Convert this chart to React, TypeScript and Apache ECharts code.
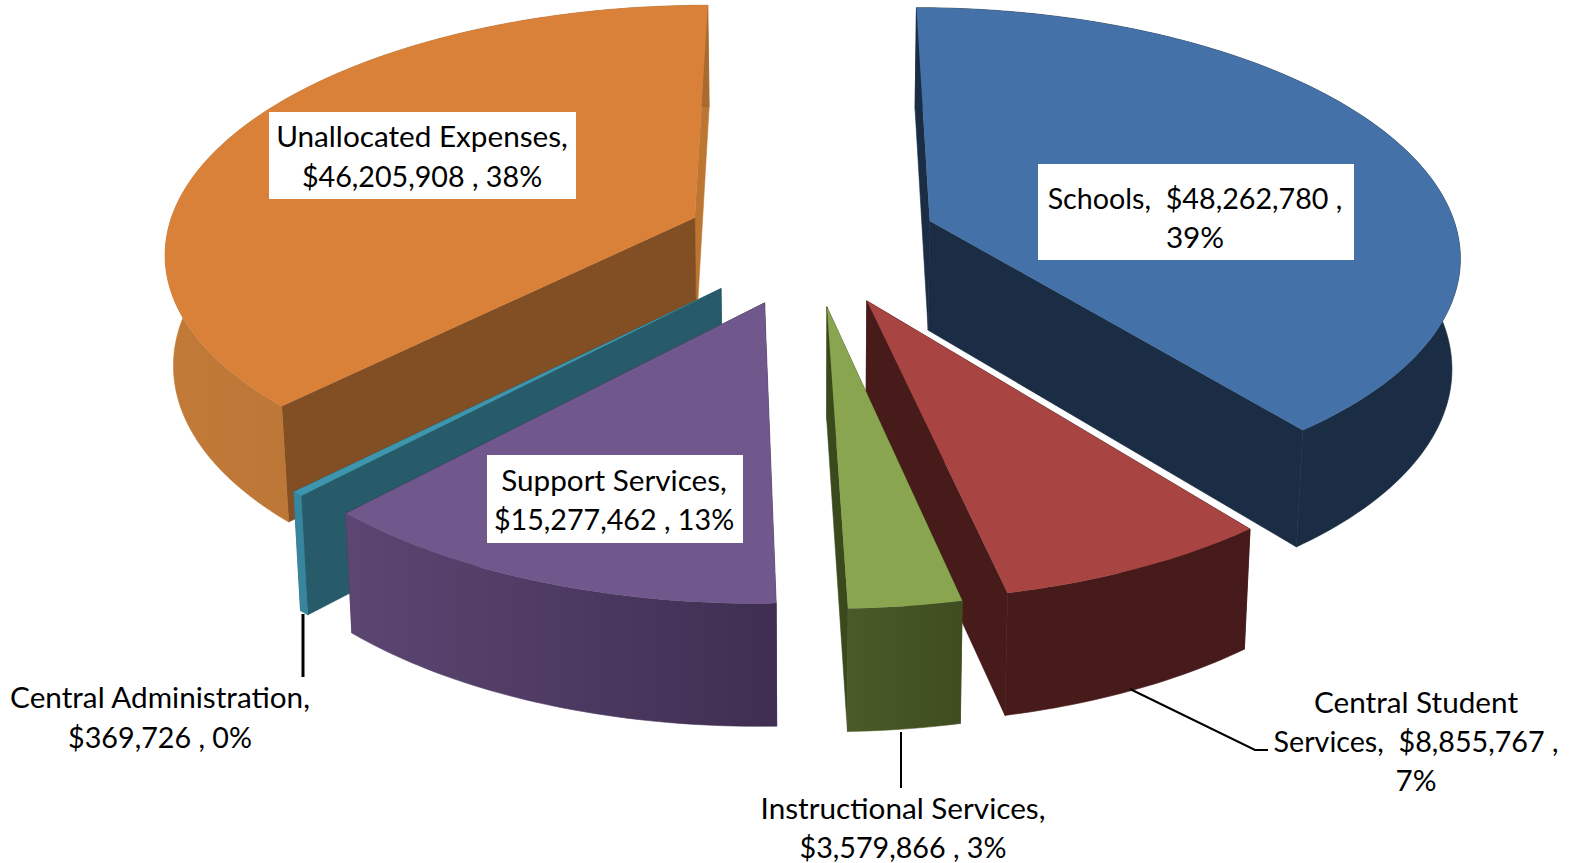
import React, { useEffect, useRef } from "react";
import * as echarts from "echarts";

const categories = ["Schools", "Central Student Services", "Instructional Services", "Support Services", "Central Administration", "Unallocated Expenses"];
const values = [48262780, 8855767, 3579866, 15277462, 369726, 46205908];
const paintOrder = [5, 0, 4, 3, 1, 2];
const insideLabels = [
  ["Schools,  $48,262,780 ,", "39%"],
  ["Central Student", "Services,  $8,855,767 ,", "7%"],
  ["Instructional Services,", "$3,579,866 , 3%"],
  ["Support Services,", "$15,277,462 , 13%"],
  ["Central Administration,", "$369,726 , 0%"],
  ["Unallocated Expenses,", "$46,205,908 , 38%"],
];

const topColors = ["#4472a8", "#a84442", "#8aa54f", "#70578c", "#3d96ae", "#d98139"];
const startWall = ["#1a2d45", "#3a1615", "#445122", "#3f2e52", "#275b69", "#824e24"];
const endWall = ["#1a2d45", "#471b1a", "#3a4a1c", "#3f2e52", "#275b69", "#bd7532"];
const rimLeft = ["#1a2d45", "#471b1a", "#4a5a28", "#5c4672", "#38869d", "#c27a38"];
const rimRight = ["#1a2d45", "#461a1a", "#3f4d20", "#3f2e52", "#38869d", "#a96a2f"];

const CX = 811, CY = 241.5, VANISH = -1686, FOCAL = 3852;
const R = 530, TILT = 0.925, EXPLODE = 127, DEPTH = 110, SHRINK = 0.987;

const total = values.reduce((a, b) => a + b, 0);
const starts: number[] = [];
values.reduce((acc, v, i) => { starts[i] = acc; return acc + v; }, 0);

function project(u: number, v: number, low: boolean): number[] {
  const s = FOCAL / (FOCAL - v);
  let x = CX + u * s;
  let y = VANISH + (CY - VANISH) * s;
  if (low) { x = CX + (x - CX) * SHRINK; y += DEPTH * (1 + (s - 1) * 0.62); }
  return [x, y];
}

function renderSlice(params: any, api: any) {
  const idx = paintOrder[params.dataIndex];
  const value = api.value(0);
  const a0 = (starts[idx] / total) * Math.PI * 2;
  const a1 = a0 + (value / total) * Math.PI * 2;
  const mid = (a0 + a1) / 2;
  const ou = EXPLODE * Math.sin(mid);
  const ov = -EXPLODE * Math.cos(mid);
  const at = (a: number, r: number, low: boolean) =>
    project(ou + r * Math.sin(a), ov - r * Math.cos(a) * TILT, low);
  const steps = Math.max(2, Math.ceil(((a1 - a0) * 180) / Math.PI));
  const arc: number[] = [];
  for (let i = 0; i <= steps; i++) arc.push(a0 + ((a1 - a0) * i) / steps);
  const topArc = arc.map((a) => at(a, R, false));
  const lowArc = arc.map((a) => at(a, R, true));
  const wall = (a: number, fill: string) => ({
    type: "polygon",
    shape: { points: [at(a, 0, false), at(a, R, false), at(a, R, true), at(a, 0, true)] },
    style: { fill, stroke: fill, lineWidth: 0.6 },
  });
  const wallStart = wall(a0, startWall[idx]);
  const wallEnd = wall(a1, endWall[idx]);
  const meanStart = at(a0, R, false)[1];
  const meanEnd = at(a1, R, false)[1];
  const walls = meanStart < meanEnd ? [wallStart, wallEnd] : [wallEnd, wallStart];
  const rimFill = new echarts.graphic.LinearGradient(0, 0, 1, 0, [
    { offset: 0, color: rimLeft[idx] },
    { offset: 1, color: rimRight[idx] },
  ]);
  return {
    type: "group",
    children: [
      ...walls,
      {
        type: "polygon",
        shape: { points: [...topArc, ...lowArc.slice().reverse()] },
        style: { fill: rimFill, stroke: rimFill, lineWidth: 0.6 },
      },
      {
        type: "polygon",
        shape: { points: [at(a0, 0, false), ...topArc] },
        style: { fill: topColors[idx] },
      },
    ],
  };
}

const FONT = "Lato, 'Open Sans', sans-serif";

function textLines(lines: string[], cx: number, ys: number[]) {
  return lines.map((t, i) => ({
    type: "text",
    z: 100,
    x: cx,
    y: ys[i] - (t.includes("$") ? 0 : 1),
    style: {
      text: t,
      fill: "#000",
      font: `${t.includes("$") ? 28.7 : 29.7}px ${FONT}`,
      textAlign: "center",
      textVerticalAlign: "middle",
    },
  }));
}

function whiteBox(x: number, y: number, width: number, height: number) {
  return { type: "rect", z: 99, shape: { x, y, width, height }, style: { fill: "#fff" } };
}

function leader(points: number[][], lineWidth: number) {
  return { type: "polyline", z: 98, shape: { points }, style: { stroke: "#000", lineWidth, fill: "none" } };
}

export default function App() {
  const ref = useRef<HTMLDivElement>(null);
  useEffect(() => {
    const chart = echarts.init(ref.current!, undefined, { renderer: "svg" });
    chart.setOption({
      animation: false,
      backgroundColor: "#fff",
      series: [
        {
          type: "custom",
          coordinateSystem: "none",
          renderItem: renderSlice,
          silent: true,
          data: paintOrder.map((i) => ({ name: categories[i], value: [values[i]] })),
        },
      ],
      graphic: {
        elements: [
          whiteBox(269, 112, 307, 87),
          whiteBox(1038, 164, 316, 96),
          whiteBox(487, 455, 256, 88),
          leader([[303, 614], [303, 677]], 3),
          leader([[1130, 689], [1255, 750], [1268, 750]], 2),
          leader([[901, 732], [901, 788]], 2),
          ...textLines(insideLabels[5], 422, [136, 176]),
          ...textLines(insideLabels[0], 1195, [198, 237]),
          ...textLines(insideLabels[3], 614, [480, 519]),
          ...textLines(insideLabels[4], 160, [697, 737]),
          ...textLines(insideLabels[1], 1416, [702, 741, 780]),
          ...textLines(insideLabels[2], 903, [808, 847]),
        ],
      },
    });
    return () => chart.dispose();
  }, []);
  return <div ref={ref} style={{ position: "fixed", left: 0, top: 0, width: 1569, height: 863 }} />;
}
